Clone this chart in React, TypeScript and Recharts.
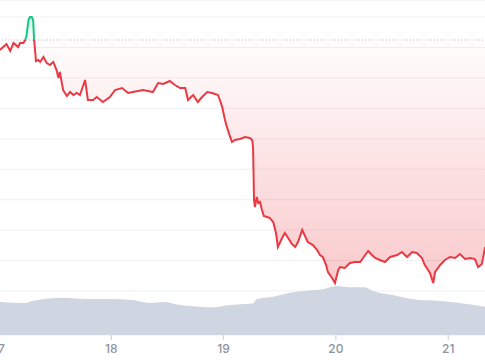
import {
  ComposedChart,
  Area,
  Line,
  XAxis,
  YAxis,
  CartesianGrid,
  ReferenceLine,
} from "recharts";

// hours since 17th 00:00, and price at that time
const hours = [
  0.2, 0.9, 1.6, 2.4, 3.1, 4.1, 4.5, 5.2, 5.6, 5.9, 6.3, 6.6, 7.0, 7.3, 7.5,
  7.7, 7.9, 8.4, 8.8, 9.5, 10.2, 10.9, 11.6, 12.3, 12.7, 13.0, 13.7, 14.5,
  15.2, 15.9, 16.6, 17.3, 18.4, 19.0, 20.1, 20.9, 22.2, 23.7, 24.8, 26.3,
  27.6, 28.6, 30.8, 32.9, 34.0, 35.1, 36.5, 37.6, 38.7, 39.8, 40.4, 41.5,
  42.5, 43.4, 44.5, 45.5, 46.8, 47.2, 47.7, 48.3, 48.7, 49.4, 49.8, 50.4,
  51.5, 52.6, 53.6, 54.1, 54.3, 54.5, 54.7, 55.1, 55.4, 55.8, 56.2, 56.6,
  57.3, 57.9, 58.6, 59.2, 59.6, 60.5, 61.1, 61.8, 62.6, 63.3, 63.9, 64.8,
  65.4, 66.0, 67.1, 68.0, 68.6, 69.2, 69.9, 70.3, 71.2, 71.8, 72.5, 72.9,
  73.9, 75.0, 76.1, 77.2, 77.8, 78.9, 79.7, 80.4, 81.4, 82.5, 83.6, 85.1,
  86.1, 87.2, 88.3, 89.3, 90.4, 91.0, 91.7, 92.1, 92.8, 93.2, 94.3, 95.3,
  96.4, 97.5, 98.5, 99.6, 100.7, 101.7, 102.4, 103.2, 103.9,
];

const price = [
  189.16, 190.14, 191.13, 188.83, 191.46, 190.14, 191.46, 191.46, 192.45,
  194.09, 199.02, 200.0, 200.0, 199.02, 192.45, 189.16, 185.55, 185.88,
  185.22, 186.86, 184.89, 184.23, 185.22, 182.59, 179.96, 181.93, 176.02,
  174.05, 175.36, 174.38, 175.03, 174.38, 179.31, 172.74, 172.74, 173.72,
  172.08, 173.72, 176.02, 176.68, 175.03, 175.36, 176.02, 175.36, 178.32,
  177.99, 178.98, 177.66, 176.68, 176.68, 172.74, 174.38, 172.08, 173.72,
  175.36, 175.03, 174.38, 172.74, 170.44, 166.16, 163.89, 160.59, 158.94,
  159.59, 159.92, 160.59, 160.25, 159.59, 157.3, 139.89, 137.59, 140.87,
  138.9, 139.23, 136.6, 134.63, 134.3, 133.97, 132.66, 129.04, 124.45,
  127.4, 129.04, 127.4, 125.43, 124.45, 126.09, 130.03, 128.06, 126.09,
  125.1, 123.46, 121.82, 121.16, 118.53, 116.23, 114.26, 112.62, 116.89,
  117.87, 117.55, 119.19, 119.52, 119.52, 120.83, 123.13, 121.82, 120.83,
  120.18, 119.52, 121.16, 121.82, 122.8, 121.16, 122.8, 122.48, 120.83,
  118.53, 116.89, 115.9, 112.62, 116.23, 118.53, 120.18, 121.16, 120.83,
  122.15, 120.5, 120.83, 120.5, 117.87, 118.86, 124.45,
];

// price at the start of the period (dotted reference)
const basePrice = 192.45;

// volume (smoothed) in billions
const volHours = [
  0.2, 5.6, 7.3, 13.7, 18.8, 23.7, 28.6, 32.3, 35.1, 38.7, 43.0, 45.7, 49.4,
  52.6, 54.3, 55.1, 58.6, 62.2, 65.8, 69.2, 72.2, 75.0, 78.2, 79.9, 84.2,
  88.5, 94.3, 97.9, 103.9,
];
const volume = [
  9.85, 9.55, 10.24, 11.13, 10.75, 10.75, 10.45, 9.55, 9.85, 8.96, 8.45,
  8.27, 8.96, 9.25, 9.46, 10.75, 11.43, 12.63, 13.22, 13.64, 14.63, 14.24,
  14.24, 13.13, 11.94, 10.66, 10.15, 9.64, 8.45,
];

const dayTicks = [0, 24, 48, 72, 96];
const priceTicks = [100, 110, 120, 130, 140, 150, 160, 170, 180, 190, 200];

const priceData = hours.map((h, i) => ({
  h,
  price: price[i],
  band: [price[i], basePrice],
}));
const volData = volHours.map((h, i) => ({ h, vol: volume[i] }));

const maxP = Math.max(...price, basePrice);
const minP = Math.min(...price, basePrice);
const off = (maxP - basePrice) / (maxP - minP);

const GREEN = "#16c784";
const RED = "#ea3943";

export default function App() {
  return (
    <div
      style={{
        position: "absolute",
        left: 0,
        top: 0,
        width: 485,
        height: 360,
        overflow: "hidden",
        background: "#fff",
      }}
    >
      <div style={{ position: "relative", left: -1 }}>
        <ComposedChart
          width={487}
          height={360}
          margin={{ top: 0, right: 0, bottom: 0, left: 0 }}
        >
          <defs>
            <linearGradient id="lineGrad" x1="0" y1="0" x2="0" y2="1">
              <stop offset={0} stopColor={GREEN} />
              <stop offset={off} stopColor={GREEN} />
              <stop offset={off} stopColor={RED} />
              <stop offset={1} stopColor={RED} />
            </linearGradient>
            <linearGradient id="fillGrad" x1="0" y1="0" x2="0" y2="1">
              <stop offset={0} stopColor={GREEN} stopOpacity={0.2} />
              <stop offset={off} stopColor={GREEN} stopOpacity={0.02} />
              <stop offset={off} stopColor={RED} stopOpacity={0.01} />
              <stop offset={1} stopColor={RED} stopOpacity={0.27} />
            </linearGradient>
          </defs>
          <CartesianGrid
            yAxisId="price"
            vertical={false}
            stroke="#eef0f3"
            strokeWidth={1}
          />
          <XAxis
            dataKey="h"
            type="number"
            domain={[0, 104.08]}
            allowDataOverflow
            ticks={dayTicks}
            interval={0}
            tickFormatter={(h: number) => String(17 + h / 24)}
            axisLine={false}
            tickLine={{ stroke: "#c9ced6" }}
            tickSize={5}
            tickMargin={4}
            height={25}
            tick={{
              fill: "#8b92a2",
              fontSize: 12,
              fontFamily: "Inter",
              fontWeight: 500,
            }}
          />
          <YAxis
            yAxisId="price"
            hide
            type="number"
            domain={[95.54, 205.585]}
            allowDataOverflow
            ticks={priceTicks}
          />
          <YAxis
            yAxisId="vol"
            hide
            type="number"
            domain={[0, 100]}
            allowDataOverflow
          />
          <Area
            yAxisId="price"
            data={priceData}
            dataKey="band"
            type="linear"
            stroke="none"
            fill="url(#fillGrad)"
            fillOpacity={1}
            dot={false}
            activeDot={false}
            isAnimationActive={false}
          />
          <Area
            yAxisId="vol"
            data={volData}
            dataKey="vol"
            type="monotone"
            stroke="none"
            fill="#cfd6e1"
            fillOpacity={1}
            dot={false}
            activeDot={false}
            isAnimationActive={false}
          />
          <ReferenceLine
            yAxisId="price"
            y={basePrice}
            stroke="#b8bec8"
            strokeDasharray="1 2"
          />
          <Line
            yAxisId="price"
            data={priceData}
            dataKey="price"
            type="linear"
            stroke="url(#lineGrad)"
            strokeWidth={2}
            dot={false}
            activeDot={false}
            isAnimationActive={false}
          />
        </ComposedChart>
      </div>
    </div>
  );
}
